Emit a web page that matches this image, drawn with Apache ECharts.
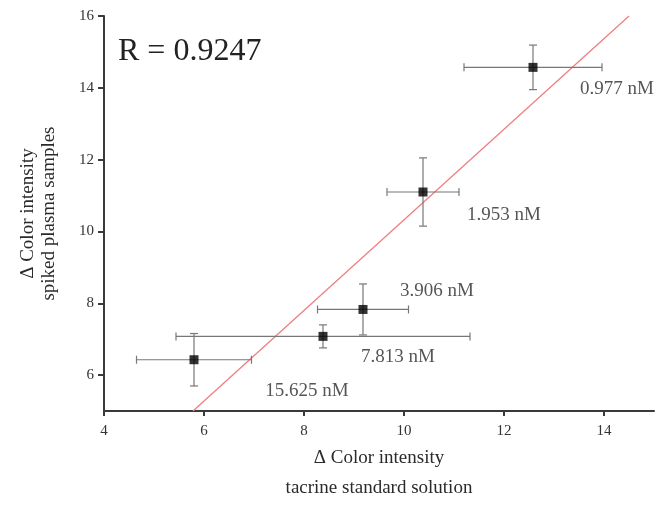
<!DOCTYPE html>
<html>
<head>
<meta charset="utf-8">
<script src="https://cdn.jsdelivr.net/npm/echarts@6/dist/echarts.min.js"></script>
<style>
  html, body { margin: 0; padding: 0; background: #fff; }
  #chart { width: 659px; height: 508px; }
</style>
</head>
<body>
<div id="chart"></div>
<script>
// Tacrine: colour-intensity change, standard solution vs spiked plasma
const concLabels = ['0.977 nM', '1.953 nM', '3.906 nM', '7.813 nM', '15.625 nM'];
const standardX  = [12.58, 10.38, 9.18, 8.38, 5.80];   // Δ colour intensity, standard solution
const plasmaY    = [14.57, 11.10, 7.83, 7.08, 6.43];   // Δ colour intensity, spiked plasma
const xErr       = [1.38, 0.72, 0.91, 2.94, 1.15];
const yErr       = [0.62, 0.95, 0.71, 0.32, 0.73];
const fitX       = [5.78, 14.50];                      // regression line end points
const fitY       = [5.00, 16.00];
const xTicks     = [4, 6, 8, 10, 12, 14];
const yTicks     = [6, 8, 10, 12, 14, 16];
const rText      = 'R = 0.9247';

// pixel offsets of each concentration label from its point
const labelOffsets = [[84, 22], [81, 23], [74, -18], [75, 21], [113, 31]];

const FONT = 'Liberation Serif';
const AXIS_COLOR = '#3a3a3a';
const BAR_COLOR = '#777';

const chart = echarts.init(document.getElementById('chart'), null, { renderer: 'canvas' });

const points = standardX.map((x, i) => ({
  value: [x, plasmaY[i]],
  label: {
    show: true,
    formatter: concLabels[i],
    position: 'inside',
    offset: labelOffsets[i],
    fontFamily: FONT,
    fontSize: 19,
    color: '#2a2a2a'
  }
}));

const errData = standardX.map((x, i) => [x, plasmaY[i], xErr[i], yErr[i]]);

chart.setOption({
  animation: false,
  backgroundColor: '#fff',
  grid: { left: 104, right: 5, top: 16, bottom: 83, containLabel: false },
  xAxis: {
    type: 'value',
    min: 4, max: 15,
    splitLine: { show: false },
    axisLine: { show: true, onZero: false, lineStyle: { color: AXIS_COLOR, width: 2 } },
    axisTick: { show: true, length: 5, inside: false, customValues: xTicks,
                lineStyle: { color: AXIS_COLOR, width: 2 } },
    axisLabel: { customValues: xTicks, margin: 12, fontFamily: FONT, fontSize: 15, color: '#333' },
    name: 'Δ Color intensity\ntacrine standard solution',
    nameLocation: 'middle',
    nameGap: 21,
    nameTextStyle: { fontFamily: FONT, fontSize: 19, color: '#2a2a2a', lineHeight: 30 }
  },
  yAxis: {
    type: 'value',
    min: 5, max: 16,
    splitLine: { show: false },
    axisLine: { show: true, onZero: false, lineStyle: { color: AXIS_COLOR, width: 2 } },
    axisTick: { show: true, length: 6, inside: false, customValues: yTicks,
                lineStyle: { color: AXIS_COLOR, width: 2 } },
    axisLabel: { customValues: yTicks, margin: 10, fontFamily: FONT, fontSize: 15, color: '#333' },
    name: 'Δ Color intensity\nspiked plasma samples',
    nameLocation: 'middle',
    nameRotate: 90,
    nameGap: 44,
    nameTextStyle: { fontFamily: FONT, fontSize: 19, color: '#2a2a2a', lineHeight: 21 }
  },
  graphic: [{
    type: 'text',
    left: 118,
    top: 36,
    style: { text: rText, font: '32px "Liberation Serif"', fill: '#222' }
  }],
  series: [
    {
      type: 'line',
      data: fitX.map((x, i) => [x, fitY[i]]),
      symbol: 'none',
      lineStyle: { color: '#f07f7f', width: 1.3 },
      z: 2
    },
    {
      type: 'custom',
      data: errData,
      z: 3,
      renderItem(params, api) {
        const x = api.value(0), y = api.value(1), ex = api.value(2), ey = api.value(3);
        const l = api.coord([x - ex, y]);
        const r = api.coord([x + ex, y]);
        const t = api.coord([x, y + ey]);
        const b = api.coord([x, y - ey]);
        const c = 4;
        const st = { stroke: BAR_COLOR, lineWidth: 1.2 };
        const seg = (x1, y1, x2, y2) => ({ type: 'line', shape: { x1, y1, x2, y2 }, style: st });
        return {
          type: 'group',
          children: [
            seg(l[0], l[1], r[0], r[1]),
            seg(t[0], t[1], b[0], b[1]),
            seg(l[0], l[1] - c, l[0], l[1] + c),
            seg(r[0], r[1] - c, r[0], r[1] + c),
            seg(t[0] - c, t[1], t[0] + c, t[1]),
            seg(b[0] - c, b[1], b[0] + c, b[1])
          ]
        };
      }
    },
    {
      type: 'scatter',
      data: points,
      symbol: 'rect',
      symbolSize: 9,
      itemStyle: { color: '#000' },
      z: 4
    }
  ]
});
</script>
</body>
</html>
